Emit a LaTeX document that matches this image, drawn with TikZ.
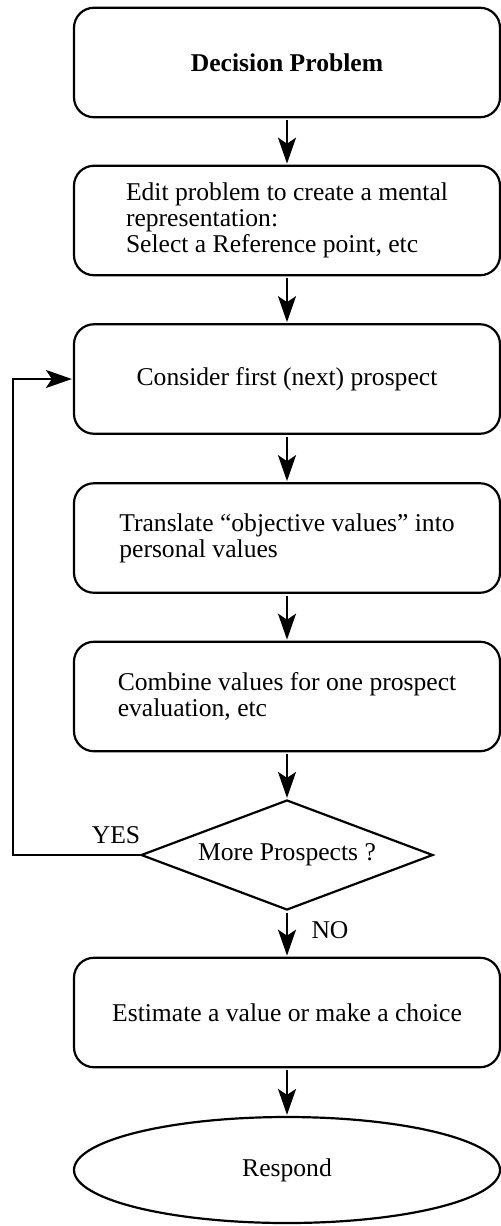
\documentclass[tikz,border=0pt]{standalone}
\usepackage{fontspec}
\setmainfont{Liberation Serif}
\usetikzlibrary{shapes.geometric,arrows.meta}

\begin{document}
\begin{tikzpicture}[x=0.5pt,y=-0.5pt,
    font=\fontsize{12.8}{13}\selectfont,
    stepbox/.style={draw, line width=1.1pt, rounded corners=10pt,
      minimum width=213pt, minimum height=54.75pt, inner sep=0pt, align=left},
    flow/.style={line width=1pt, -{Stealth[length=13pt,width=9pt,inset=3pt]},
      shorten <=1pt, shorten >=0.5pt}]
  \useasboundingbox (0,0) rectangle (501,1226);
  % boxes
  \node[stepbox] (b1) at (287,62.5) {\textbf{Decision Problem}};
  \node[stepbox] (b2) at (287,220.5) {Edit problem to create a mental\\representation:\\Select a Reference point, etc};
  \node[stepbox] (b3) at (287,379) {Consider first (next) prospect};
  \node[stepbox] (b4) at (287,538) {Translate “objective values” into\\personal values};
  \node[stepbox] (b5) at (287,696.5) {Combine values for one prospect\\evaluation, etc};
  \node[draw, line width=1.1pt, diamond, aspect=2.65, minimum width=146pt,
    minimum height=55pt, inner sep=0pt] (dec) at (287,855) {More Prospects ?};
  \node[stepbox] (b6) at (287,1012.5) {Estimate a value or make a choice};
  \node[draw, line width=1.1pt, ellipse, minimum width=213pt, minimum height=53pt,
    inner sep=0pt] (resp) at (287,1170) {Respond};
  % labels
  \node (yes) at (116,835) {YES};
  \node (no) at (330,930) {NO};
  % arrows
  \draw[flow] (b1.south) -- (b2.north);
  \draw[flow] (b2.south) -- (b3.north);
  \draw[flow] (b3.south) -- (b4.north);
  \draw[flow] (b4.south) -- (b5.north);
  \draw[flow] (b5.south) -- (dec.north);
  \draw[flow] (dec.south) -- (b6.north);
  \draw[flow] (b6.south) -- (resp.north);
  \draw[flow, shorten <=0pt] (dec.west) -- ++(-127,0) |- (b3.west);
\end{tikzpicture}
\end{document}
